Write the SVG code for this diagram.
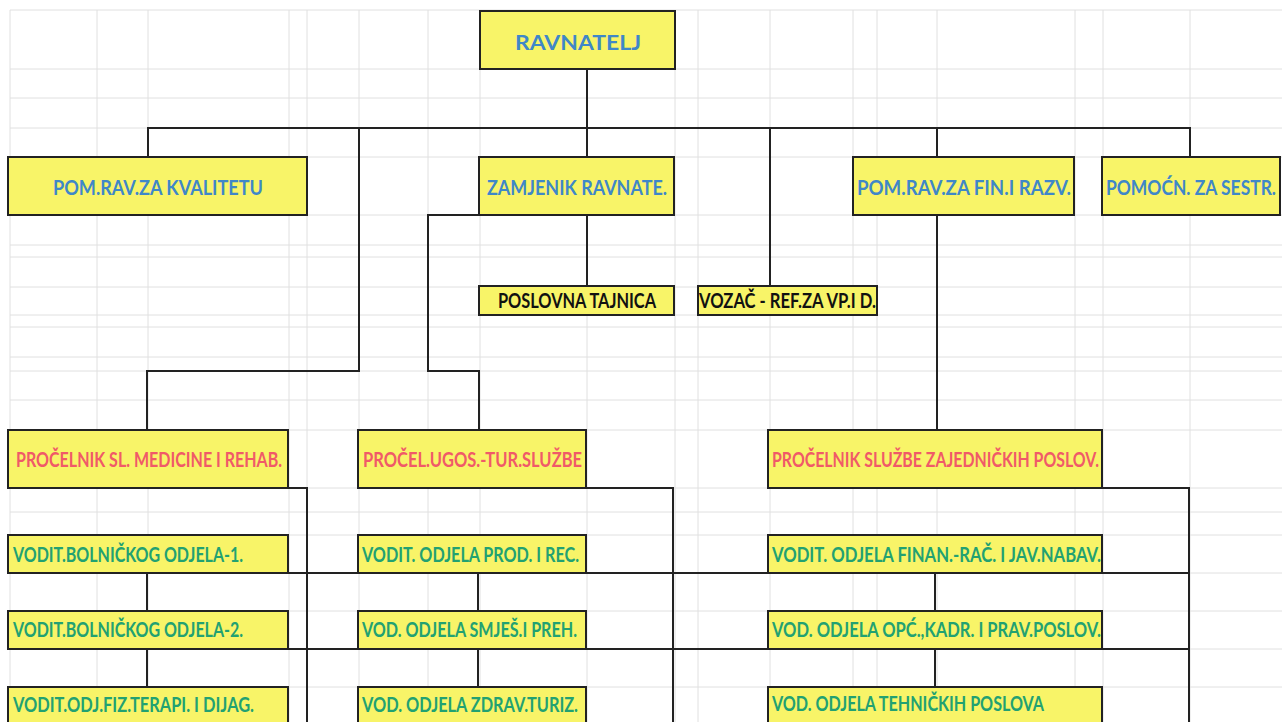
<svg xmlns="http://www.w3.org/2000/svg" width="1282" height="722" viewBox="0 0 1282 722">
<style>
.grid line{stroke:#e0e0e0;stroke-width:1}
.box{fill:#f8f468;stroke:#222;stroke-width:2}
.t{font-family:Lato,"Open Sans","Liberation Sans",sans-serif;font-weight:700;font-size:20px}
.blue{fill:#3f87c8}
.red{fill:#f05a68}
.green{fill:#22a172}
.black{fill:#111}
.conn path{fill:none;stroke:#222;stroke-width:2}
</style>
<rect width="1282" height="722" fill="#fff"/>
<g class="grid">
<line x1="10" y1="10" x2="10" y2="722"/><line x1="97" y1="10" x2="97" y2="722"/><line x1="148" y1="10" x2="148" y2="722"/><line x1="289" y1="10" x2="289" y2="722"/><line x1="307" y1="10" x2="307" y2="722"/><line x1="359" y1="10" x2="359" y2="722"/><line x1="428" y1="10" x2="428" y2="722"/><line x1="480" y1="10" x2="480" y2="722"/><line x1="587" y1="10" x2="587" y2="722"/><line x1="675" y1="10" x2="675" y2="722"/><line x1="698" y1="10" x2="698" y2="722"/><line x1="770" y1="10" x2="770" y2="722"/><line x1="853" y1="10" x2="853" y2="722"/><line x1="877" y1="10" x2="877" y2="722"/><line x1="937" y1="10" x2="937" y2="722"/><line x1="1075" y1="10" x2="1075" y2="722"/><line x1="1103" y1="10" x2="1103" y2="722"/><line x1="1190" y1="10" x2="1190" y2="722"/>
<line x1="10" y1="10" x2="1282" y2="10"/><line x1="10" y1="69" x2="1282" y2="69"/><line x1="10" y1="98" x2="1282" y2="98"/><line x1="10" y1="128" x2="1282" y2="128"/><line x1="10" y1="157" x2="1282" y2="157"/><line x1="10" y1="215" x2="1282" y2="215"/><line x1="10" y1="245" x2="1282" y2="245"/><line x1="10" y1="257" x2="1282" y2="257"/><line x1="10" y1="287" x2="1282" y2="287"/><line x1="10" y1="315" x2="1282" y2="315"/><line x1="10" y1="327" x2="1282" y2="327"/><line x1="10" y1="357" x2="1282" y2="357"/><line x1="10" y1="371" x2="1282" y2="371"/><line x1="10" y1="400" x2="1282" y2="400"/><line x1="10" y1="430" x2="1282" y2="430"/><line x1="10" y1="488" x2="1282" y2="488"/><line x1="10" y1="512" x2="1282" y2="512"/><line x1="10" y1="535" x2="1282" y2="535"/><line x1="10" y1="573" x2="1282" y2="573"/><line x1="10" y1="611" x2="1282" y2="611"/><line x1="10" y1="649" x2="1282" y2="649"/><line x1="10" y1="687" x2="1282" y2="687"/>
</g>
<g class="conn" id="connectors">
<path d="M587 69V157M587 215V286"/>
<path d="M148 157V128H1190V157"/>
<path d="M359 128V371H147V430"/>
<path d="M770 128V286"/>
<path d="M937 128V157M937 215V430"/>
<path d="M479 215H428V371H479V430"/>
<path d="M288 488H307V722M288 573H358M288 649H358M147 573V611M147 649V687"/>
<path d="M586 488H673V722M586 573H768M586 649H768M478 573V611M478 649V687"/>
<path d="M1102 488H1189V722M1102 573H1189M1102 649H1189M935 573V611M935 649V687"/>
</g>
<g id="ravnatelj"><rect class="box" x="480" y="11" width="195" height="58"/><text class="t blue" x="515" y="50" font-size="28" textLength="126" lengthAdjust="spacingAndGlyphs">RAVNATELJ</text></g>
<g id="pom-kvalitetu"><rect class="box" x="8" y="157" width="299" height="58"/><text class="t blue" x="53" y="195" textLength="210" lengthAdjust="spacingAndGlyphs">POM.RAV.ZA KVALITETU</text></g>
<g id="zamjenik"><rect class="box" x="479" y="157" width="195" height="58"/><text class="t blue" x="487" y="195" textLength="180" lengthAdjust="spacingAndGlyphs">ZAMJENIK RAVNATE.</text></g>
<g id="pom-fin"><rect class="box" x="853" y="157" width="221" height="58"/><text class="t blue" x="857" y="195" textLength="214" lengthAdjust="spacingAndGlyphs">POM.RAV.ZA FIN.I RAZV.</text></g>
<g id="pomocn-sestr"><rect class="box" x="1102" y="157" width="178" height="58"/><text class="t blue" x="1106" y="195" textLength="170" lengthAdjust="spacingAndGlyphs">POMOĆN. ZA SESTR.</text></g>
<g id="tajnica"><rect class="box" x="479" y="286" width="195" height="29"/><text class="t black" x="498" y="308" textLength="158" lengthAdjust="spacingAndGlyphs">POSLOVNA TAJNICA</text></g>
<g id="vozac"><rect class="box" x="698" y="286" width="179" height="29"/><text class="t black" x="699" y="308" textLength="177" lengthAdjust="spacingAndGlyphs">VOZAČ - REF.ZA VP.I D.</text></g>
<g id="procelnik-med"><rect class="box" x="8" y="430" width="280" height="58"/><text class="t red" x="16" y="467" textLength="266" lengthAdjust="spacingAndGlyphs">PROČELNIK SL. MEDICINE I REHAB.</text></g>
<g id="procel-ugos"><rect class="box" x="358" y="430" width="228" height="58"/><text class="t red" x="363" y="467" textLength="219" lengthAdjust="spacingAndGlyphs">PROČEL.UGOS.-TUR.SLUŽBE</text></g>
<g id="procelnik-zaj"><rect class="box" x="768" y="430" width="334" height="58"/><text class="t red" x="772" y="467" textLength="327" lengthAdjust="spacingAndGlyphs">PROČELNIK SLUŽBE ZAJEDNIČKIH POSLOV.</text></g>
<g id="bol-1"><rect class="box" x="8" y="535" width="280" height="38"/><text class="t green" x="13" y="562" textLength="230" lengthAdjust="spacingAndGlyphs">VODIT.BOLNIČKOG ODJELA-1.</text></g>
<g id="bol-2"><rect class="box" x="8" y="611" width="280" height="38"/><text class="t green" x="13" y="637" textLength="230" lengthAdjust="spacingAndGlyphs">VODIT.BOLNIČKOG ODJELA-2.</text></g>
<g id="fiz"><rect class="box" x="8" y="687" width="280" height="45"/><text class="t green" x="13" y="712" textLength="241" lengthAdjust="spacingAndGlyphs">VODIT.ODJ.FIZ.TERAPI. I DIJAG.</text></g>
<g id="prod"><rect class="box" x="358" y="535" width="228" height="38"/><text class="t green" x="362" y="562" textLength="217" lengthAdjust="spacingAndGlyphs">VODIT. ODJELA PROD. I REC.</text></g>
<g id="smjes"><rect class="box" x="358" y="611" width="228" height="38"/><text class="t green" x="362" y="637" textLength="215" lengthAdjust="spacingAndGlyphs">VOD. ODJELA SMJEŠ.I PREH.</text></g>
<g id="zdrav"><rect class="box" x="358" y="687" width="228" height="45"/><text class="t green" x="362" y="712" textLength="216" lengthAdjust="spacingAndGlyphs">VOD. ODJELA ZDRAV.TURIZ.</text></g>
<g id="finan"><rect class="box" x="768" y="535" width="334" height="38"/><text class="t green" x="772" y="562" textLength="329" lengthAdjust="spacingAndGlyphs">VODIT. ODJELA FINAN.-RAČ. I JAV.NABAV.</text></g>
<g id="opc"><rect class="box" x="768" y="611" width="334" height="38"/><text class="t green" x="772" y="637" textLength="329" lengthAdjust="spacingAndGlyphs">VOD. ODJELA OPĆ.,KADR. I PRAV.POSLOV.</text></g>
<g id="teh"><rect class="box" x="768" y="687" width="334" height="45"/><text class="t green" x="772" y="711" textLength="272" lengthAdjust="spacingAndGlyphs">VOD. ODJELA TEHNIČKIH POSLOVA</text></g>
</svg>
